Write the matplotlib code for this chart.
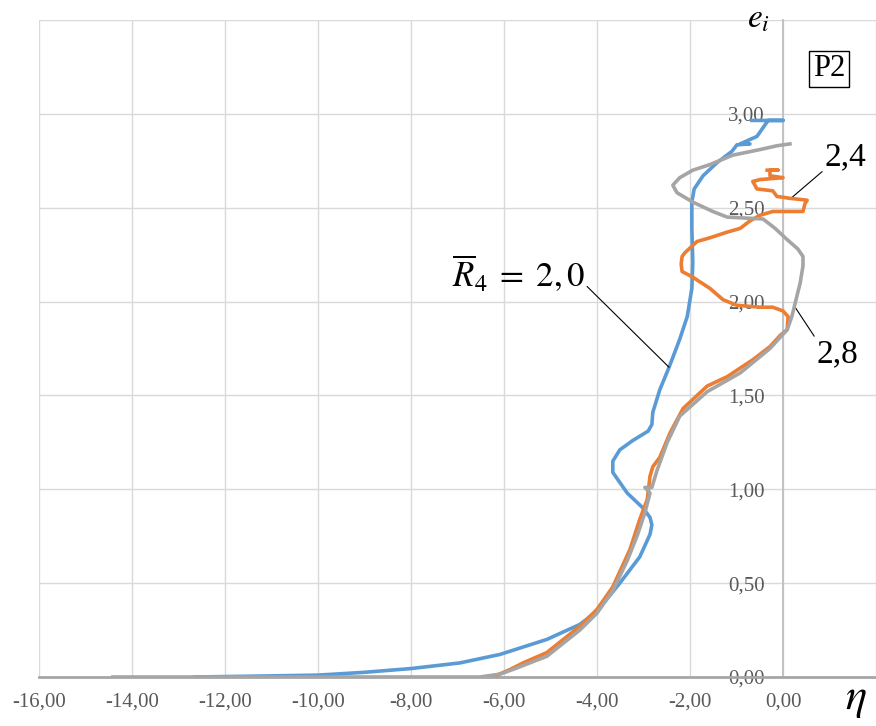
import matplotlib
matplotlib.use("Agg")
import matplotlib.pyplot as plt

# ---- data ----
blue_x = [-12.65, -11.25, -10.0, -9.0, -8.0, -6.95, -6.09, -5.08, -4.37, -4.0, -3.51, -3.08,
          -2.86, -2.82, -2.86, -3.01, -3.35, -3.66, -3.66, -3.51, -3.23, -2.90, -2.82, -2.80,
          -2.65, -2.45, -2.22, -2.06, -1.96, -1.94, -1.96, -1.96, -1.91, -1.72, -1.42, -1.10,
          -0.99, -0.71, -0.92, -0.56, -0.32, 0.0, -0.67]
blue_y = [0.0, 0.005, 0.01, 0.025, 0.045, 0.075, 0.12, 0.20, 0.28, 0.35, 0.50, 0.64,
          0.76, 0.81, 0.85, 0.90, 0.98, 1.09, 1.15, 1.21, 1.26, 1.31, 1.345, 1.41,
          1.53, 1.65, 1.80, 1.92, 2.07, 2.21, 2.39, 2.53, 2.60, 2.67, 2.74, 2.80,
          2.835, 2.84, 2.84, 2.88, 2.965, 2.965, 2.965]

orange_x = [-6.41, -6.15, -5.87, -5.59, -5.08, -4.37, -4.0, -3.66, -3.29, -3.08, -2.92, -2.86,
            -2.80, -2.65, -2.43, -2.15, -1.63, -1.20, -0.65, -0.28, -0.06, 0.09, 0.11, 0.0,
            -0.22, -0.49, -0.99, -1.29, -1.57, -1.94, -2.17, -2.19, -2.17, -2.11, -1.85, -1.57,
            -1.20, -0.92, -0.71, -0.49, -0.22, 0.43, 0.47, 0.52, 0.15, -0.13, -0.22, -0.56,
            -0.65, -0.49, 0.0, -0.28, -0.28, -0.11, -0.34]
orange_y = [0.0, 0.01, 0.04, 0.075, 0.13, 0.27, 0.36, 0.48, 0.68, 0.84, 0.945, 1.07,
            1.12, 1.17, 1.30, 1.43, 1.55, 1.60, 1.69, 1.76, 1.82, 1.85, 1.92, 1.95,
            1.97, 1.97, 1.98, 2.01, 2.07, 2.13, 2.16, 2.20, 2.24, 2.26, 2.32, 2.34,
            2.37, 2.39, 2.43, 2.46, 2.48, 2.48, 2.52, 2.54, 2.55, 2.56, 2.59, 2.60,
            2.64, 2.65, 2.66, 2.67, 2.70, 2.70, 2.70]

gray_x = [-14.41, -6.52, -6.09, -5.81, -5.08, -4.37, -4.0, -3.66, -3.35, -3.14, -2.97, -2.86,
          -2.97, -2.82, -2.71, -2.49, -2.22, -1.63, -0.92, -0.28, 0.09, 0.19, 0.30, 0.37,
          0.43, 0.43, 0.32, 0.09, -0.17, -0.43, -1.20, -1.51, -1.94, -2.28, -2.37, -2.22,
          -1.94, -1.57, -1.08, -0.49, -0.13, 0.15]
gray_y = [0.0, 0.0, 0.015, 0.04, 0.11, 0.25, 0.34, 0.46, 0.62, 0.75, 0.875, 0.98,
          1.01, 1.01, 1.10, 1.25, 1.39, 1.52, 1.62, 1.75, 1.85, 1.92, 2.03, 2.10,
          2.19, 2.24, 2.28, 2.33, 2.39, 2.44, 2.45, 2.48, 2.53, 2.58, 2.62, 2.66,
          2.70, 2.73, 2.78, 2.81, 2.83, 2.84]

x_ticks = [-16, -14, -12, -10, -8, -6, -4, -2, 0]
y_ticks = [0.0, 0.5, 1.0, 1.5, 2.0, 2.5, 3.0]

def fmt(v):
    return f"{v:.2f}".replace(".", ",")

plt.rcParams["mathtext.fontset"] = "stix"
serif = "Liberation Serif"

W, H = 876, 726
fig = plt.figure(figsize=(W / 100, H / 100), dpi=100)
ax = fig.add_axes([39 / W, (726 - 677) / H, 837 / W, 657 / H])
ax.set_xlim(-16, 2)
ax.set_ylim(0, 3.5)

lw = 2.6
ax.plot(blue_x, blue_y, color="#5B9BD5", lw=lw, solid_joinstyle="round", zorder=3)
ax.plot(orange_x, orange_y, color="#ED7D31", lw=lw, solid_joinstyle="round", zorder=4)
ax.plot(gray_x, gray_y, color="#A5A5A5", lw=lw, solid_joinstyle="round", zorder=5)

ax.set_xticks(x_ticks + [2])
ax.set_yticks(y_ticks + [3.5])
ax.set_xticklabels([fmt(v) for v in x_ticks] + [""])
ax.set_yticklabels([fmt(v) for v in y_ticks] + [""])
ax.grid(True, color="#D9D9D9", lw=1.0)
ax.set_axisbelow(True)
for s in ("top", "right"):
    ax.spines[s].set_visible(False)
ax.spines["left"].set_position(("data", 0))
ax.spines["left"].set_color("#BFBFBF")
ax.spines["left"].set_linewidth(1.3)
ax.spines["bottom"].set_color("#A6A6A6")
ax.spines["bottom"].set_linewidth(2.0)
ax.tick_params(axis="both", length=0, labelsize=15, labelcolor="#595959")
ax.tick_params(axis="x", pad=11)
ax.tick_params(axis="y", pad=13)
for lab in ax.get_xticklabels() + ax.get_yticklabels():
    lab.set_fontfamily(serif)

# axis titles
fig.text(856 / W, 1 - 698 / H, r"$\eta$", fontsize=32, ha="center", va="center")
fig.text(758 / W, 1 - 18 / H, r"$e_i$", fontsize=24, ha="center", va="center")

# P2 box
fig.text(829 / W, 1 - 69 / H, "P2", fontsize=22, family=serif, ha="center", va="center",
         bbox=dict(boxstyle="square,pad=0.12", fc="white", ec="black", lw=1.0))

# annotations
ax.annotate(r"$\overline{R}_4\;=\;2{,}\,0$", xy=(-2.45, 1.65), xytext=(-5.70, 2.15),
            textcoords="data", fontsize=25, ha="center", va="center",
            arrowprops=dict(arrowstyle="-", color="black", lw=0.8, shrinkA=0, shrinkB=0,
                            relpos=(1.0, 0.25)))
ax.annotate("2,4", xy=(0.17, 2.55), xytext=(1.35, 2.77), textcoords="data",
            fontsize=24, family=serif, ha="center", va="center",
            arrowprops=dict(arrowstyle="-", color="black", lw=0.8, shrinkA=0, shrinkB=0,
                            relpos=(0.0, 0.1)))
ax.annotate("2,8", xy=(0.26, 1.97), xytext=(1.18, 1.72), textcoords="data",
            fontsize=24, family=serif, ha="center", va="center",
            arrowprops=dict(arrowstyle="-", color="black", lw=0.8, shrinkA=0, shrinkB=0,
                            relpos=(0.0, 0.95)))

fig.savefig("out.png", dpi=100)
